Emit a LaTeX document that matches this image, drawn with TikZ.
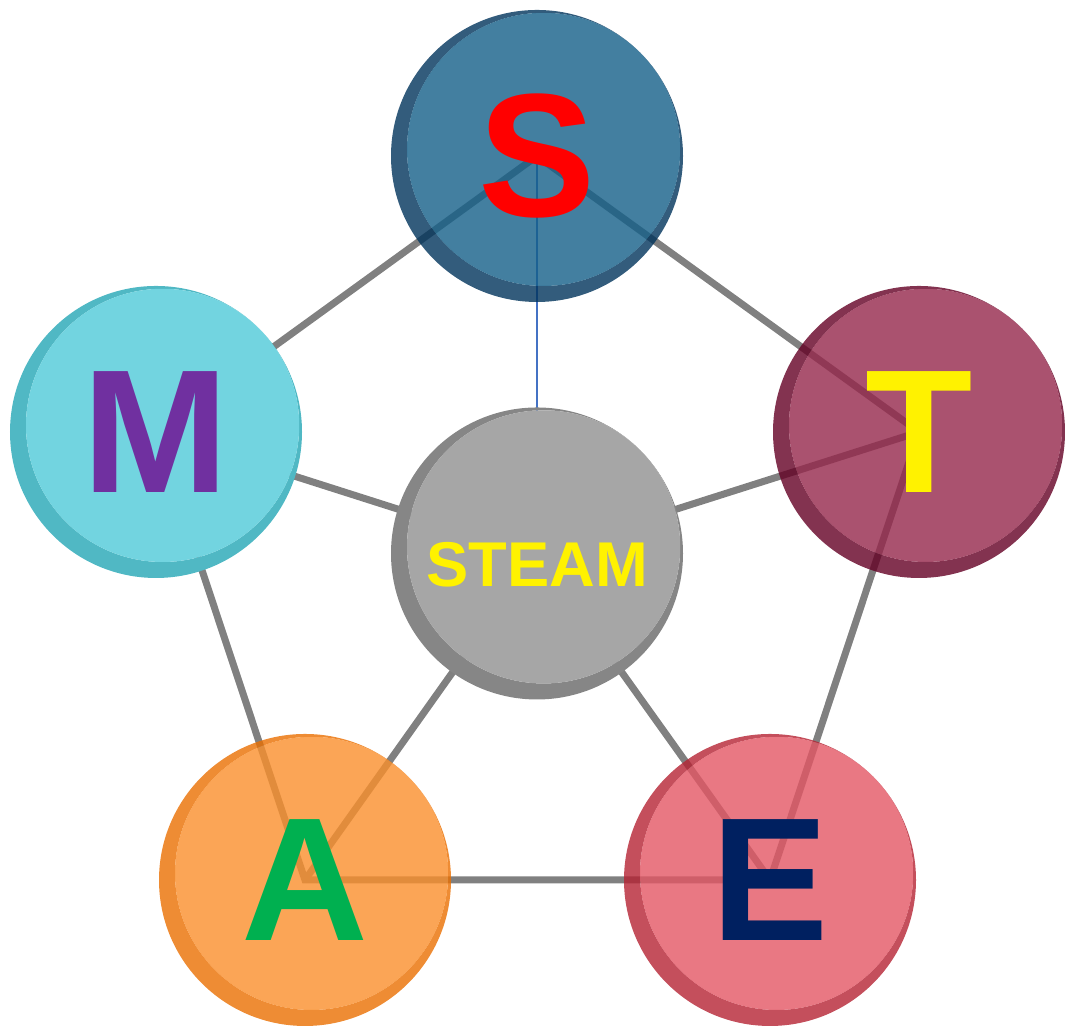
\documentclass[tikz,border=0pt]{standalone}
\usepackage{fontspec}
\setmainfont{Liberation Sans}
\usepackage{xcolor}
\usetikzlibrary{backgrounds}

% ball colours: face and rim
\definecolor{sFace}{RGB}{20,95,136}
\definecolor{sRim}{RGB}{0,51,91}
\definecolor{tFace}{RGB}{149,39,75}
\definecolor{tRim}{RGB}{100,0,36}
\definecolor{eFace}{RGB}{227,86,100}
\definecolor{eRim}{RGB}{181,35,51}
\definecolor{aFace}{RGB}{250,143,44}
\definecolor{aRim}{RGB}{234,111,1}
\definecolor{mFace}{RGB}{114,212,224}
\definecolor{mRim}{RGB}{80,184,196}
\definecolor{hubFace}{RGB}{166,166,166}
\definecolor{hubRim}{RGB}{134,134,134}
% lines and letters
\definecolor{linkGray}{RGB}{128,128,128}
\definecolor{spineBlue}{RGB}{68,114,196}
\definecolor{mPurple}{RGB}{112,48,160}
\definecolor{aGreen}{RGB}{0,176,80}
\definecolor{eNavy}{RGB}{0,32,96}

\pgfdeclarelayer{balls}
\pgfsetlayers{background,balls,main}

% #1 node, #2 rim, #3 face, #4 opacity
\newcommand{\drawball}[4]{%
  \fill[#2, even odd rule, opacity=#4]
    (#1.center) circle (1.46cm) ([shift={(0.066,0.066)}]#1.center) circle (1.366cm);
  \fill[#3, opacity=#4] ([shift={(0.066,0.066)}]#1.center) circle (1.366cm);
}

\begin{document}
\begin{tikzpicture}[
  letter/.style = {font=\bfseries\fontsize{50}{50}\selectfont, inner sep=0pt},
  hub/.style    = {font=\bfseries\fontsize{18}{18}\selectfont, text=yellow,
                   inner sep=0pt, text height=0.66cm, text depth=0pt},
  link/.style   = {draw=linkGray, line width=2pt},
  spine/.style  = {draw=spineBlue, line width=0.4pt},
]
  \useasboundingbox (0,0) rectangle (10.65,10.26);

  \node[letter, text=red]     (S)     at (5.37,8.70) {S};
  \node[letter, text=yellow]  (T)     at (9.19,5.94) {T};
  \node[letter, text=eNavy]   (E)     at (7.70,1.46) {E};
  \node[letter, text=aGreen]  (A)     at (3.05,1.46) {A};
  \node[letter, text=mPurple] (M)     at (1.56,5.94) {M};
  \node[hub]                  (steam) at (5.37,4.725) {STEAM};

  \begin{pgfonlayer}{balls}
    \drawball{S}{sRim}{sFace}{0.8}
    \drawball{T}{tRim}{tFace}{0.8}
    \drawball{E}{eRim}{eFace}{0.8}
    \drawball{A}{aRim}{aFace}{0.8}
    \drawball{M}{mRim}{mFace}{1}
    \drawball{steam}{hubRim}{hubFace}{1}
  \end{pgfonlayer}

  \begin{scope}[on background layer]
    \draw[link] (S.center) -- (T.center) -- (E.center) -- (A.center) -- (M.center) -- cycle;
    \draw[link] (steam.center) -- (M.center);
    \draw[link] (steam.center) -- (T.center);
    \draw[link] (steam.center) -- (A.center);
    \draw[link] (steam.center) -- (E.center);
    \draw[spine] (S.center) -- (steam.center);
  \end{scope}
\end{tikzpicture}
\end{document}
